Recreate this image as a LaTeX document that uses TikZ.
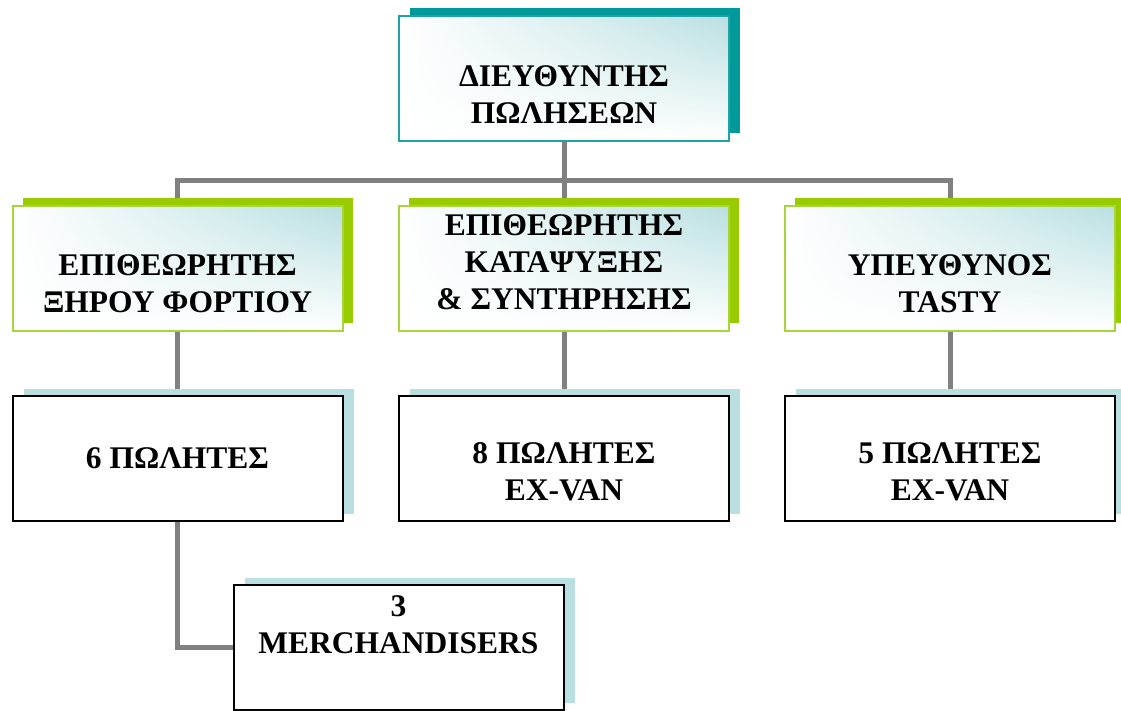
\documentclass[tikz,border=0pt]{standalone}
\usepackage{fontspec}
\setmainfont{Liberation Serif}
\usetikzlibrary{shadows,shadings,backgrounds}
\definecolor{darkteal}{HTML}{009999}
\definecolor{paleteal}{HTML}{B9DFE1}
\definecolor{limegreen}{HTML}{99CC00}
\definecolor{lineteal}{HTML}{1FA3A3}
\definecolor{lightlime}{HTML}{A8D63A}
\begin{document}
\begin{tikzpicture}[x=1pt, y=-1pt, line join=miter,
		font=\fontsize{31.5}{37}\selectfont\bfseries,
		box/.style={rectangle, minimum width=330pt, minimum height=125pt, inner sep=0pt},
		headbox/.style={box, draw=lineteal, line width=2pt, upper right=paleteal, upper left=white, lower left=white, lower right=white,
			general shadow={fill=darkteal, shadow xshift=11pt, shadow yshift=8pt}},
		leadbox/.style={box, draw=lightlime, line width=2pt, upper right=paleteal, upper left=white, lower left=white, lower right=white,
			general shadow={fill=limegreen, shadow xshift=10pt, shadow yshift=8pt}},
		teambox/.style={box, draw=black, fill=white, line width=2pt,
			general shadow={fill=paleteal, shadow xshift=11pt, shadow yshift=7pt}},
		txt/.style={align=center, inner sep=0pt},
		conn/.style={draw=gray, line width=5pt}]
	\useasboundingbox (0,0) rectangle (1121,711);
	\node[headbox, label={[txt, name=dir-t, yshift=-16pt]center:ΔΙΕΥΘΥΝΤΗΣ\\ΠΩΛΗΣΕΩΝ}] (dir) at (564,78.5) {};
	\node[leadbox, label={[txt, name=ins1-t, yshift=-15pt]center:ΕΠΙΘΕΩΡΗΤΗΣ\\ΞΗΡΟΥ ΦΟΡΤΙΟΥ}] (ins1) at (177.5,268.5) {};
	\node[leadbox, label={[txt, name=ins2-t, yshift=6pt]center:ΕΠΙΘΕΩΡΗΤΗΣ\\ΚΑΤΑΨΥΞΗΣ\\\& ΣΥΝΤΗΡΗΣΗΣ}] (ins2) at (564,268.5) {};
	\node[leadbox, label={[txt, name=tas-t, yshift=-15pt]center:ΥΠΕΥΘΥΝΟΣ\\TASTY}] (tas) at (950,268.5) {};
	\node[teambox, label={[txt, name=sp1-t]center:6 ΠΩΛΗΤΕΣ}] (sp1) at (177.5,458) {};
	\node[teambox, label={[txt, name=sp2-t, yshift=-14pt]center:8 ΠΩΛΗΤΕΣ\\EX-VAN}] (sp2) at (564,458) {};
	\node[teambox, label={[txt, name=sp3-t, yshift=-14pt]center:5 ΠΩΛΗΤΕΣ\\EX-VAN}] (sp3) at (950,458) {};
	\node[teambox, label={[txt, name=merch-t, yshift=22pt]center:3\\MERCHANDISERS}] (merch) at (398.5,647) {};
	\begin{scope}[on background layer]
		\draw[conn] (dir.south) -- (ins2.north);
		\draw[conn] (dir.south) -- ++(0,39) -| (ins1.north);
		\draw[conn] (dir.south) -- ++(0,39) -| (tas.north);
		\draw[conn] (ins1.south) -- (sp1.north);
		\draw[conn] (ins2.south) -- (sp2.north);
		\draw[conn] (tas.south) -- (sp3.north);
		\draw[conn] (sp1.south) |- (merch.west);
	\end{scope}
\end{tikzpicture}
\end{document}
